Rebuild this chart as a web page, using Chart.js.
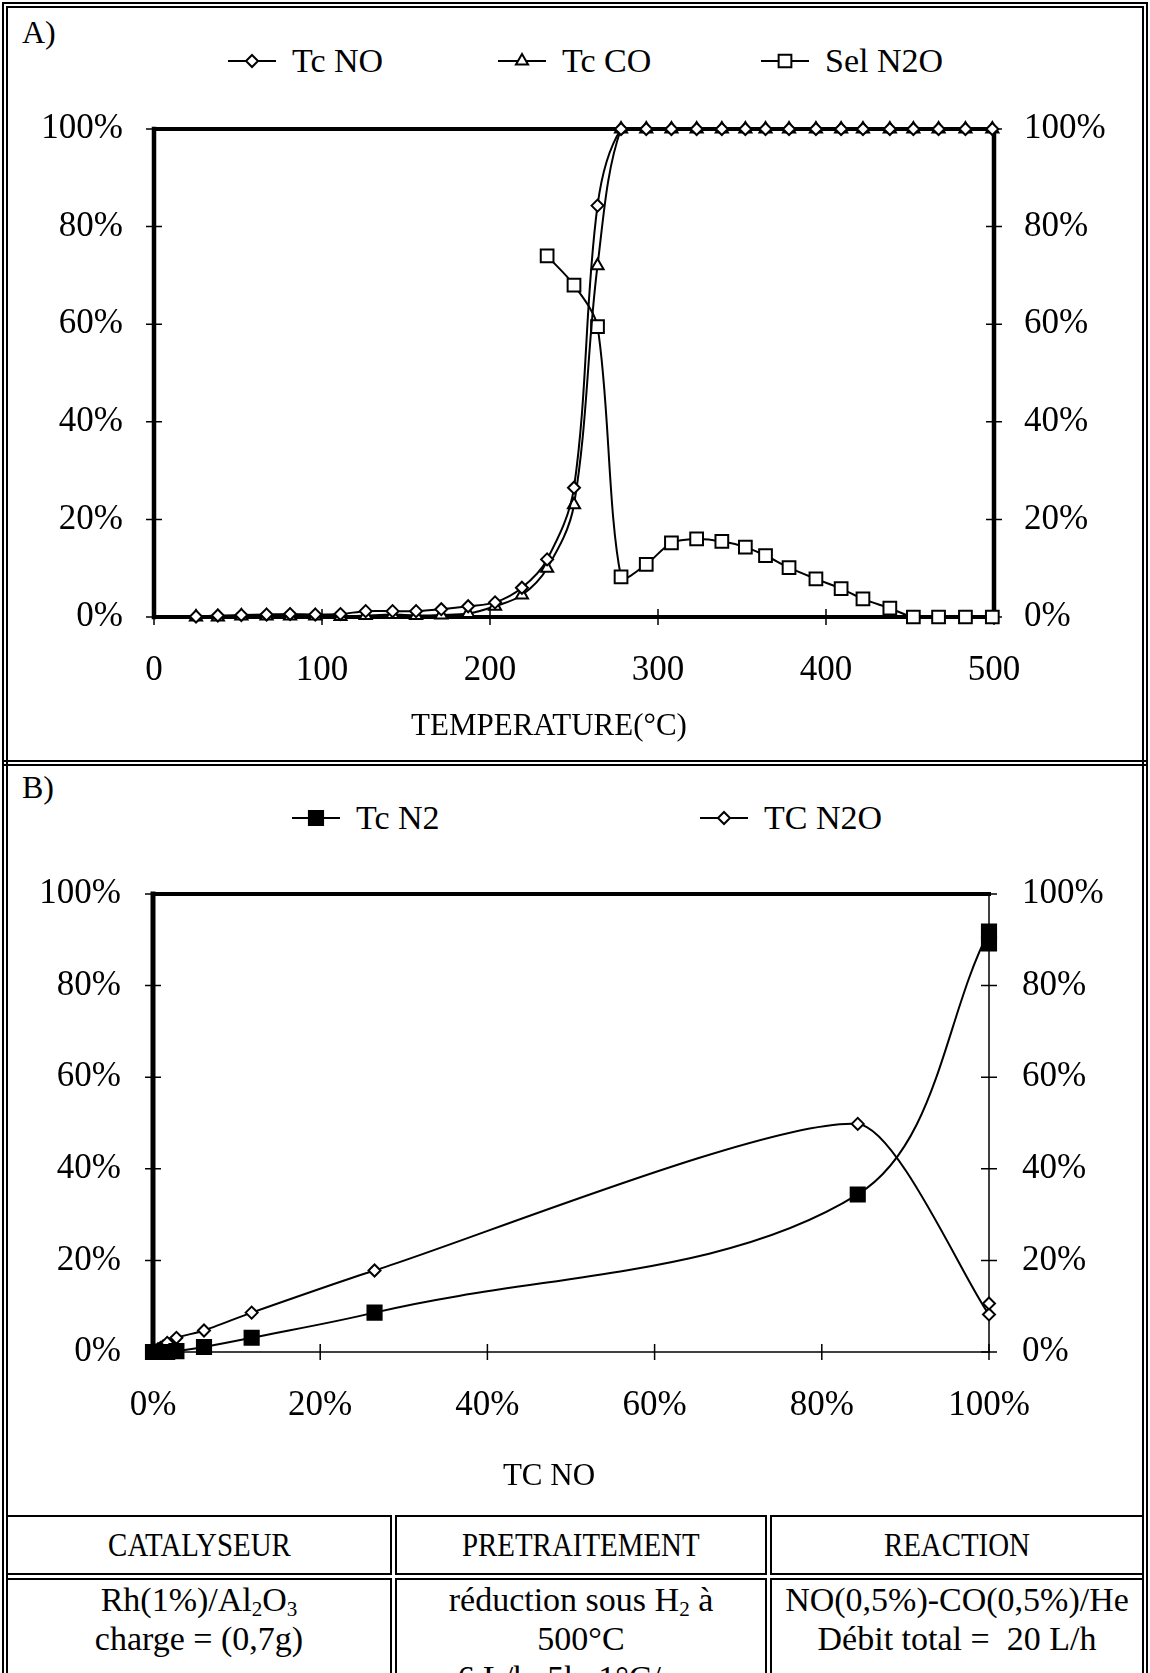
<!DOCTYPE html>
<html lang="fr">
<head>
<meta charset="utf-8">
<title>Rh(1%)/Al2O3 - NO + CO</title>
<script src="https://cdn.jsdelivr.net/npm/chart.js"></script>
<style>
  html, body { margin: 0; padding: 0; background: #fff; }
  body { position: relative; width: 1150px; height: 1673px; overflow: hidden;
         font-family: "Liberation Serif", "Times New Roman", serif; color: #000; }
  .frame { position: absolute; left: 2px; top: 2px; width: 1134px; height: 1720px; border: 6px double #000; }
  .sep { position: absolute; left: 2px; width: 1146px; height: 0; border-top: 6px double #000; }
  .tag { position: absolute; left: 22px; font-size: 32px; line-height: 32px; }
  .chartbox { position: absolute; left: 0; width: 1150px; }
  .caption { position: absolute; width: 600px; margin-left: -300px; text-align: center;
             font-size: 31px; line-height: 36px; white-space: nowrap; }
  .legend { position: absolute; left: 0; width: 1150px; height: 40px; }
  .item { position: absolute; top: 0; height: 40px; display: flex; align-items: center; font-size: 34px; white-space: nowrap; }
  .item canvas { margin-right: 15px; }
  table.info { position: absolute; left: 3px; top: 1512px; width: 1144px; border-collapse: separate;
               border-spacing: 3px; table-layout: fixed; }
  table.info td { border: 2px solid #000; text-align: center; vertical-align: top; padding: 0; }
  table.info tr.head td { height: 56px; vertical-align: middle; font-size: 34px; }
  table.info tr.head span { display: inline-block; transform: scaleX(0.85); }
  table.info tr.body td { font-size: 34px; line-height: 39px; height: 120px; }
  sub { font-size: 62%; vertical-align: -0.25em; line-height: 0; }
</style>
</head>
<body>

<div class="frame"></div>

<div class="tag" style="top:16px">A)</div>
<div class="legend" id="legendA" style="top:41px"></div>
<div class="chartbox" style="top:77px"><canvas id="chartA" width="1150" height="683"></canvas></div>
<div class="caption" style="left:549px; top:707px">TEMPERATURE(°C)</div>

<div class="sep" style="top:760px"></div>

<div class="tag" style="top:771px">B)</div>
<div class="legend" id="legendB" style="top:798px"></div>
<div class="chartbox" style="top:840px"><canvas id="chartB" width="1150" height="670"></canvas></div>
<div class="caption" style="left:549px; top:1457px">TC NO</div>

<table class="info">
  <colgroup><col style="width:386px"><col style="width:372px"><col></colgroup>
  <tr class="head"><td><span>CATALYSEUR</span></td><td><span>PRETRAITEMENT</span></td><td><span>REACTION</span></td></tr>
  <tr class="body">
    <td>Rh(1%)/Al<sub>2</sub>O<sub>3</sub><br>charge = (0,7g)</td>
    <td>réduction sous H<sub>2</sub> à<br>500°C<br>6 L/h, 5h, 1°C/mn</td>
    <td>NO(0,5%)-CO(0,5%)/He<br>Débit total =&nbsp; 20 L/h</td>
  </tr>
</table>

<script>
// --- Montée en température : conversions NO, CO et sélectivité N2O ---
const temperature = [25, 38, 52, 67, 81, 96, 111, 126, 142, 156, 171, 187, 203, 219, 234, 250, 264,
                     278, 293, 308, 323, 338, 352, 364, 378, 394, 409, 422, 438, 452, 467, 483, 499];
const tcNO = [0.1, 0.3, 0.4, 0.5, 0.6, 0.5, 0.6, 1.2, 1.2, 1.2, 1.6, 2.2, 3.0, 6.0, 11.8, 26.5, 84.3,
              100, 100, 100, 100, 100, 100, 100, 100, 100, 100, 100, 100, 100, 100, 100, 100];
const tcCO = [0, 0, 0.2, 0.2, 0.2, 0.2, 0.1, 0.3, 0.5, 0.3, 0.4, 0.7, 2.2, 4.5, 10.0, 23.0, 72.0,
              100, 100, 100, 100, 100, 100, 100, 100, 100, 100, 100, 100, 100, 100, 100, 100];
const selN2O = [null, null, null, null, null, null, null, null, null, null, null, null, null, null,
                74.0, 68.0, 59.5, 8.2, 10.8, 15.2, 16.0, 15.5, 14.3, 12.6, 10.1, 7.8, 5.8, 3.7, 1.8, 0, 0, 0, 0];

// --- Conversions en N2 et N2O en fonction de la conversion de NO ---
const tcNOb = [0, 0.3, 0.6, 0.9, 1.2, 1.7, 2.8, 6.1, 11.8, 26.5, 84.3, 100, 100];
const tcN2 = [0, 0, 0, 0, 0, 0, 0.2, 1.1, 3.1, 8.6, 34.4, 91.8, 89.2];
const tcN2O = [0, 0.3, 0.6, 0.9, 1.2, 2.0, 3.1, 4.7, 8.6, 17.8, 49.8, 8.2, 10.6];

const FONT = '"Liberation Serif", "Times New Roman", serif';
const TICK_SIZE = 35;
Chart.defaults.font.family = FONT;
Chart.defaults.color = '#000';

function points(xs, ys) {
    return xs.map((x, i) => ({ x: x, y: ys[i] }));
}

function series(label, data, style, radius, fill, tension) {
    return {
        label: label,
        data: data,
        borderColor: '#000',
        borderWidth: 2,
        tension: tension,
        clip: false,
        pointStyle: style,
        pointRadius: radius,
        pointHoverRadius: radius,
        pointBorderWidth: 2,
        pointBorderColor: '#000',
        pointBackgroundColor: fill
    };
}

// axe en pourcentage, bords et graduations dessinés par le plugin
function percentAxis(position, size, pad, horizontal) {
    return {
        type: 'linear',
        position: position,
        min: 0,
        max: 100,
        ticks: { stepSize: 20, padding: pad, font: { size: TICK_SIZE }, callback: v => v + '%' },
        grid: { display: false, drawTicks: false },
        border: { display: false },
        afterFit(scale) {
            if (horizontal) scale.height = size; else scale.width = size;
        }
    };
}

// cadre de la zone de tracé + graduations qui traversent les axes
const frameTicks = {
    id: 'frameTicks',
    beforeDatasetsDraw(chart, args, opts) {
        const ctx = chart.ctx;
        const a = chart.chartArea;
        const w = opts.widths;
        const t = opts.tick;
        ctx.save();
        ctx.strokeStyle = '#000';
        ctx.lineWidth = 1.5;
        ctx.beginPath();
        const sx = chart.scales.x;
        sx.ticks.forEach(tk => {
            const px = sx.getPixelForValue(tk.value);
            ctx.moveTo(px, a.bottom - t);
            ctx.lineTo(px, a.bottom + t);
        });
        ['y', 'y2'].forEach(id => {
            const s = chart.scales[id];
            const xx = id === 'y' ? a.left : a.right;
            s.ticks.forEach(tk => {
                const py = s.getPixelForValue(tk.value);
                ctx.moveTo(xx - t, py);
                ctx.lineTo(xx + t, py);
            });
        });
        ctx.stroke();

        ctx.lineCap = 'square';
        const side = (x1, y1, x2, y2, lw) => {
            ctx.lineWidth = lw;
            ctx.beginPath();
            ctx.moveTo(x1, y1);
            ctx.lineTo(x2, y2);
            ctx.stroke();
        };
        side(a.left, a.top, a.right, a.top, w.top);
        side(a.left, a.bottom, a.right, a.bottom, w.bottom);
        side(a.left, a.top, a.left, a.bottom, w.left);
        side(a.right, a.top, a.right, a.bottom, w.right);
        ctx.restore();
    }
};

function makeChart(id, datasets, xAxis, yAxes, padTop, frame) {
    return new Chart(document.getElementById(id), {
        type: 'line',
        data: { datasets: datasets },
        options: {
            responsive: false,
            animation: false,
            events: [],
            layout: { padding: { top: padTop, left: 0, right: 0, bottom: 0 } },
            plugins: {
                legend: { display: false },
                tooltip: { enabled: false },
                frameTicks: frame
            },
            scales: Object.assign({ x: xAxis }, yAxes)
        },
        plugins: [frameTicks]
    });
}

// --- A) ---
const tempAxis = {
    type: 'linear',
    position: 'bottom',
    min: 0,
    max: 500,
    ticks: { stepSize: 100, padding: 33, font: { size: TICK_SIZE } },
    grid: { display: false, drawTicks: false },
    border: { display: false },
    afterFit(scale) { scale.height = 143; }
};

const chartA = makeChart('chartA', [
    series('Tc NO', points(temperature, tcNO), 'rectRot', 6, '#fff', 0.35),
    series('Tc CO', points(temperature, tcCO), 'triangle', 7, '#fff', 0.35),
    series('Sel N2O', points(temperature, selN2O), 'rect', 9, '#fff', 0.3)
], tempAxis, {
    y: percentAxis('left', 154, 31, false),
    y2: percentAxis('right', 156, 30, false)
}, 36, { widths: { left: 4.5, top: 4, right: 4.5, bottom: 4 }, tick: 8 });

// --- B) ---
const chartB = makeChart('chartB', [
    series('Tc N2', points(tcNOb, tcN2), 'rect', 10, '#000', 0.35),
    series('TC N2O', points(tcNOb, tcN2O), 'rectRot', 6, '#fff', 0.2)
], percentAxis('bottom', 158, 33, true), {
    y: percentAxis('left', 153, 32, false),
    y2: percentAxis('right', 161, 33, false)
}, 51, { widths: { left: 5, top: 4, right: 1.5, bottom: 1.5 }, tick: 8 });

// --- légendes : trait + marqueur, comme dans le tableur ---
function drawMarker(ctx, style, x, y, r) {
    ctx.beginPath();
    if (style === 'rectRot') {
        ctx.moveTo(x, y - r);
        ctx.lineTo(x + r, y);
        ctx.lineTo(x, y + r);
        ctx.lineTo(x - r, y);
    } else if (style === 'triangle') {
        ctx.moveTo(x, y - r);
        ctx.lineTo(x + r * Math.sin(2 * Math.PI / 3), y + r / 2);
        ctx.lineTo(x - r * Math.sin(2 * Math.PI / 3), y + r / 2);
    } else {
        const s = r * Math.SQRT1_2;
        ctx.rect(x - s, y - s, 2 * s, 2 * s);
    }
    ctx.closePath();
    ctx.fill();
    ctx.stroke();
}

function buildLegend(chart, boxId, lefts) {
    const box = document.getElementById(boxId);
    chart.data.datasets.forEach((ds, i) => {
        const item = document.createElement('div');
        item.className = 'item';
        item.style.left = lefts[i] + 'px';
        const sym = document.createElement('canvas');
        sym.width = 50;
        sym.height = 26;
        const c = sym.getContext('2d');
        c.strokeStyle = '#000';
        c.lineWidth = 2;
        c.beginPath();
        c.moveTo(1, 13);
        c.lineTo(49, 13);
        c.stroke();
        c.fillStyle = ds.pointBackgroundColor;
        drawMarker(c, ds.pointStyle, 25, 13, ds.pointRadius);
        const txt = document.createElement('span');
        txt.textContent = ds.label;
        item.appendChild(sym);
        item.appendChild(txt);
        box.appendChild(item);
    });
}

buildLegend(chartA, 'legendA', [227, 497, 760]);
buildLegend(chartB, 'legendB', [291, 699]);
</script>
</body>
</html>
